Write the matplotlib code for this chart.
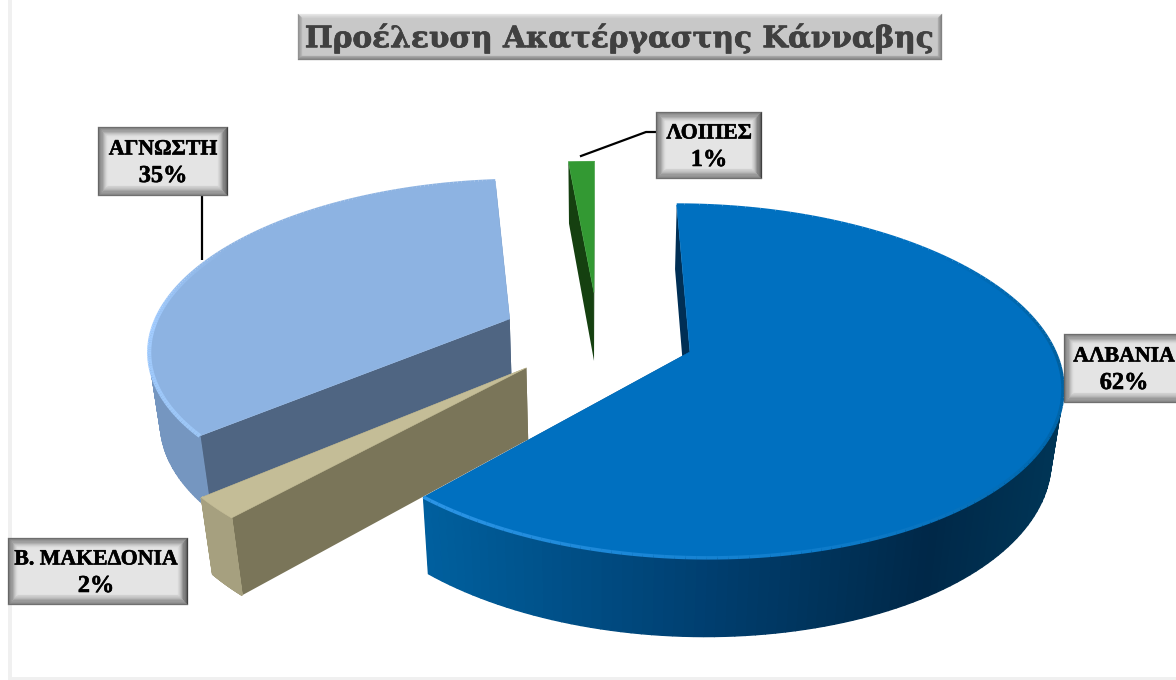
import numpy as np
import matplotlib
matplotlib.use("Agg")
import matplotlib.pyplot as plt
import matplotlib.patheffects as pe
from matplotlib.collections import LineCollection
from matplotlib.colors import to_rgb

title = "Προέλευση Ακατέργαστης Κάνναβης"
categories = ["ΑΛΒΑΝΙΑ", "Β. ΜΑΚΕΔΟΝΙΑ", "ΑΓΝΩΣΤΗ", "ΛΟΙΠΕΣ"]
values = [61.7, 2.0, 34.9, 1.4]

# --- styles / layout ---
top_col = ["#0070C0", "#C4BD97", "#8DB3E2", "#339933"]
cut_col = ["#002F55", "#7A7559", "#4F6582", "#154010"]
wall_stops = [
    [(0.0, "#003556"), (0.2, "#002848"), (0.55, "#003F70"), (1.0, "#00609F")],
    [(0.0, "#A6A07F"), (1.0, "#A6A07F")],
    [(0.0, "#7C9CC8"), (1.0, "#7596C0")],
    [(0.0, "#154010"), (1.0, "#154010")],
]
XC, YC, RX, AY, P, H, R_Z, EXPL = 598, 335.5, 359, 166, 0.165, 72, 0.025, 0.27

fig = plt.figure(figsize=(11.76, 6.8), dpi=100)
ax = fig.add_axes([0, 0, 1, 1])
ax.set_xlim(0, 1176)
ax.set_ylim(680, 0)
ax.axis("off")
ax.fill([8, 12, 12, 8], [0, 0, 680, 680], color="#F0F0F0", lw=0)
ax.fill([8, 1176, 1176, 8], [677, 677, 680, 680], color="#F0F0F0", lw=0)


def project(X, V, Z=0.0):
    w = 1 + P * np.asarray(V) + R_Z * Z
    return XC + RX * np.asarray(X) / w, YC + (-AY * np.asarray(V) + H * Z) / w


def ramp(stops, t):
    ts = [s[0] for s in stops]
    cs = np.array([to_rgb(s[1]) for s in stops])
    return tuple(np.interp(t, ts, cs[:, i]) for i in range(3))


def draw_slice(start, end, i):
    mid = np.radians((start + end) / 2)
    ox, ov = EXPL * np.sin(mid), EXPL * np.cos(mid)
    th = np.radians(np.linspace(start, end, 160))
    X = ox + np.sin(th)
    V = ov + np.cos(th)
    z = 10 + i_order[i]
    for k in (0, -1):
        a = project(ox, ov, 0)
        b = project(X[k], V[k], 0)
        c = project(X[k], V[k], 1)
        d = project(ox, ov, 1)
        ax.fill([a[0], b[0], c[0], d[0]], [a[1], b[1], c[1], d[1]],
                color=cut_col[i], lw=0, zorder=z)
    xt, yt = project(X, V, 0)
    xb, yb = project(X, V, 1)
    for k in range(len(th) - 1):
        if np.cos(th[k]) > 0.05:
            continue  # back of the rim is hidden behind the top face
        t = np.clip((xt[k] - 424) / (1062 - 424), 0, 1)
        col = ramp(wall_stops[i], 1 - t)
        ax.fill([xt[k], xt[k + 1], xb[k + 1], xb[k]],
                [yt[k], yt[k + 1], yb[k + 1], yb[k]],
                color=col, lw=1.0, zorder=z)
    ax_, ay_ = project(ox, ov, 0)
    ax.fill(np.r_[ax_, xt], np.r_[ay_, yt], color=top_col[i], lw=0.4, zorder=z)
    return xt, yt


def rim(xt, yt, cols, order, lw=3.0):
    pts = np.column_stack([xt, yt])
    segs = np.stack([pts[:-1], pts[1:]], axis=1)
    t = np.linspace(0, 1, len(segs))
    c = [ramp(cols, v) for v in t]
    ax.add_collection(LineCollection(segs, colors=c, linewidths=lw, zorder=10.5 + order))


def bevel_box(x0, y0, x1, y1, fill="#E4E4E4", b=10,
              dark=("#6E6E6E", "#666666", "#404040", "#707070"),
              light=("#E0E0E0", "#E0E0E0", "#D8D8D8", "#D0D0D0"), z=30):
    ax.fill([x0, x1, x1, x0], [y0, y0, y1, y1], color=fill, lw=0, zorder=z)
    n = 8
    for k in range(n):
        f0, f1 = k / n, (k + 1) / n
        a, c = b * f0, b * f1
        polys = [
            ([x0 + a, x1 - a, x1 - c, x0 + c], [y0 + a, y0 + a, y0 + c, y0 + c]),
            ([x0 + a, x0 + c, x0 + c, x0 + a], [y0 + a, y0 + c, y1 - c, y1 - a]),
            ([x1 - a, x1 - c, x1 - c, x1 - a], [y0 + a, y0 + c, y1 - c, y1 - a]),
            ([x0 + a, x1 - a, x1 - c, x0 + c], [y1 - a, y1 - a, y1 - c, y1 - c]),
        ]
        for p, d, l in zip(polys, dark, light):
            dc, lc = np.array(to_rgb(d)), np.array(to_rgb(l))
            ax.fill(p[0], p[1], color=tuple(dc + (lc - dc) * (k / (n - 1))),
                    lw=0.2, zorder=z)


i_order = [3, 2, 1, 0]
shares = np.array(values) / np.sum(values) * 360
edges = np.r_[0, np.cumsum(shares)]
arcs = {}
for i in [3, 2, 1, 0]:
    arcs[i] = draw_slice(edges[i], edges[i + 1], i)

rim(*arcs[0], [(0, "#0070C0"), (0.22, "#0070C0"), (0.42, "#00609F"), (0.55, "#0068B0"),
               (0.75, "#0E7CCB"), (1, "#2C95E6")], 3, lw=2.5)
rim(*arcs[2], [(0, "#9CC6F6"), (0.3, "#A2CCFF"), (0.55, "#8DB3E2"), (1, "#8DB3E2")], 2, lw=3)
rim(*arcs[1], [(0, "#D8D2AC"), (1, "#D8D2AC")], 1, lw=2.5)

ax.plot([202, 202], [196, 260], color="black", lw=1.6, zorder=25, solid_capstyle="butt")
ax.plot([581, 646, 656], [156, 132, 132], color="black", lw=1.6, zorder=25)

bevel_box(298, 14, 942, 60, fill="#C8C8C8", b=4,
          dark=("#EDEDED", "#8A8A8A", "#777777", "#777777"),
          light=("#D0D0D0", "#B5B5B5", "#AAAAAA", "#A5A5A5"))
ax.text(620, 38, title, ha="center", va="center", family="DejaVu Serif",
        weight="bold", fontsize=21.3, color="#404040", zorder=35,
        path_effects=[pe.withStroke(linewidth=0.5, foreground="#404040")])

boxes = {0: (1064, 334, 1190, 403, 1124), 1: (8, 538, 188, 605, 96),
         2: (98, 127, 228, 196, 163), 3: (656, 112, 762, 179, 709)}
stroke = [pe.withStroke(linewidth=0.4, foreground="black")]
for i, (x0, y0, x1, y1, tx) in boxes.items():
    bevel_box(x0, y0, x1, y1)
    ym = (y0 + y1) / 2
    ax.text(tx, ym - 12, categories[i], ha="center", va="center",
            family="Liberation Serif", weight="bold", fontsize=15.7,
            color="black", zorder=35, path_effects=stroke)
    ax.text(tx, ym + 15, f"{round(values[i])}%", ha="center", va="center",
            family="Liberation Serif", weight="bold", fontsize=17.5,
            color="black", zorder=35, path_effects=stroke)

fig.savefig("out.png", dpi=100)
